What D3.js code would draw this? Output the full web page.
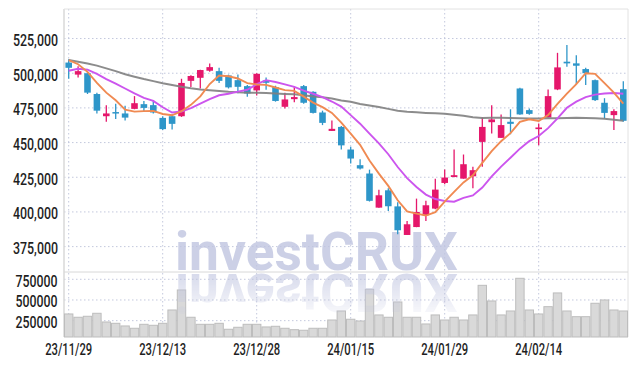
<!DOCTYPE html>
<html><head><meta charset="utf-8">
<script src="https://cdn.jsdelivr.net/npm/d3@7"></script>
<style>
html,body{margin:0;padding:0;background:#fff;}
svg{display:block;}
text{font-family:Roboto,"Noto Sans",sans-serif;}
</style></head>
<body>
<svg id="c" width="637" height="366"></svg>
<script>
const dates = ["23/11/29","23/11/30","23/12/01","23/12/04","23/12/05","23/12/06","23/12/07","23/12/08","23/12/11","23/12/12","23/12/13","23/12/14","23/12/15","23/12/18","23/12/19","23/12/20","23/12/21","23/12/22","23/12/26","23/12/27","23/12/28","24/01/02","24/01/03","24/01/04","24/01/05","24/01/08","24/01/09","24/01/10","24/01/11","24/01/12","24/01/15","24/01/16","24/01/17","24/01/18","24/01/19","24/01/22","24/01/23","24/01/24","24/01/25","24/01/26","24/01/29","24/01/30","24/01/31","24/02/01","24/02/02","24/02/05","24/02/06","24/02/07","24/02/08","24/02/13","24/02/14","24/02/15","24/02/16","24/02/19","24/02/20","24/02/21","24/02/22","24/02/23","24/02/26","24/02/27"];
const open  = [507700,499000,500000,485000,469000,472000,471000,474300,477700,477000,467800,469000,469000,494500,496700,501800,501500,498400,495000,490700,487600,494800,490000,475800,481300,490700,486600,471700,458400,461300,445000,433700,427700,403100,415600,404000,383400,389100,397600,402400,420900,425200,424000,425700,450500,464700,453400,465000,489000,473400,459700,468100,488300,508300,507100,503000,495000,478700,469800,488500];
const high  = [510000,505000,501000,486000,477000,478000,476500,483500,480000,480600,469000,470500,496000,498500,502500,507000,504000,499000,499000,491600,500000,497000,491000,486000,490700,491500,487000,473000,466000,462000,447000,438000,430500,416000,417000,407000,393500,409600,408000,424000,430600,445000,441400,432500,468000,477000,470300,474000,489500,474500,463800,488300,514700,520300,513000,504000,495500,482000,474000,494300];
const low   = [496000,497000,485000,471000,465000,467000,466000,474000,472500,471000,459000,459500,468500,490000,489000,501000,493000,489000,485500,483000,484000,488000,479500,474600,479000,478000,471000,462600,458400,445000,435000,430600,407500,403000,400700,384000,383400,389000,393500,402000,420000,425000,424000,417000,432500,456600,453400,456000,470000,470000,448000,468000,487800,504600,492000,491500,480000,467400,459000,465000];
const close = [503900,501500,486000,473000,471000,471000,468000,478400,475000,471700,459700,463500,493000,498000,502300,504400,494500,489800,490200,485400,499600,493100,480000,481100,482800,478700,471400,464200,459900,448000,438500,431300,408000,412000,404100,386800,391100,400000,404800,416100,424800,426500,434400,430100,461300,466700,462600,463500,470300,470700,460900,483500,504200,507100,505400,500000,480600,471400,472700,465700];
const volume = [331000,291000,303000,339000,234000,218000,186000,158000,206000,194000,218000,379000,621000,291000,206000,206000,218000,146000,170000,206000,206000,174000,182000,158000,141000,134000,158000,158000,258000,367000,267000,246000,629000,319000,291000,476000,291000,291000,210000,319000,258000,291000,258000,319000,677000,488000,319000,367000,762000,379000,331000,419000,585000,367000,298000,298000,460000,500000,379000,367000];
const ma5  = [509500,506500,501000,493000,486000,480500,473800,472300,472700,472800,470600,469700,472600,477200,483300,492200,498400,497800,496200,492900,491900,491600,489700,487800,487300,483100,478800,475600,471400,464400,456400,448400,437100,427600,418800,408400,400400,398800,397400,399800,407400,414400,421300,426400,435400,443800,451000,456800,464900,466800,465600,469800,477900,485300,492200,500000,499500,492900,486000,478100];
const ma10 = [501800,503200,502500,499500,495800,492500,489000,485500,482300,480000,475500,471700,472400,474900,478100,481400,484100,485200,486700,488100,492100,495000,493700,492000,490100,487500,485200,482700,479600,475900,469800,463600,456400,449500,441600,432400,424400,418000,412500,409300,407900,407400,410100,411900,417600,425600,432700,439100,445600,451100,454700,460400,467400,475100,479500,482800,484600,485400,485700,485200];
const ma60 = [509500,508300,507000,505500,503500,501500,499300,497500,495800,494300,492800,491500,490300,489200,488300,487800,487200,486600,486300,486000,485900,485700,485400,485100,484800,484200,483300,482600,481800,480400,479400,477800,476800,475600,474300,473000,472300,471800,471400,471100,470700,470100,469300,468300,467800,467900,467900,467700,467500,467400,467400,467500,467600,467800,467900,467800,467600,467200,466500,465800];
const priceTicks = [375000,400000,425000,450000,475000,500000,525000];
const volumeTicks = [250000,500000,750000];
const tickLabels = ["23/11/29","23/12/13","23/12/28","24/01/15","24/01/29","24/02/14"];

const svg = d3.select("#c");
const L = 64, R = 628, T = 9, SEP = 272, B = 337;
const RED = "#e5176b", BLUE = "#2e96c9";

const x = d3.scaleBand().domain(dates).range([L, R]).paddingInner(0).paddingOuter(0);
const bw = x.bandwidth();
const cx = d => x(d) + bw / 2;
const y = d3.scaleLinear().domain([356700, 546300]).range([SEP, T]);
const yv = d3.scaleLinear().domain([52500, 838000]).range([B, SEP]);

const font = {size: 16, fill: "#1e1e1e", weight: 500};

// grid
const grid = svg.append("g");
grid.selectAll("line.h").data(priceTicks).join("line")
  .attr("x1", L).attr("x2", R).attr("y1", d => y(d)).attr("y2", d => y(d))
  .attr("stroke", "#c3c8dd").attr("stroke-width", 1).attr("stroke-dasharray", "1.5,2.5");
grid.selectAll("line.v").data(tickLabels).join("line")
  .attr("x1", d => cx(d)).attr("x2", d => cx(d)).attr("y1", T).attr("y2", B)
  .attr("stroke", "#c3c8dd").attr("stroke-width", 1).attr("stroke-dasharray", "1.5,2.5");
grid.selectAll("line.vh").data(volumeTicks).join("line")
  .attr("x1", L).attr("x2", R).attr("y1", d => yv(d)).attr("y2", d => yv(d))
  .attr("stroke", "#c3c8dd").attr("stroke-width", 1).attr("stroke-dasharray", "1.5,2.5");

// frame
svg.append("line").attr("x1", L).attr("x2", L).attr("y1", T).attr("y2", B).attr("stroke", "#d8d8d8").attr("stroke-width", 1.5);
svg.append("line").attr("x1", R).attr("x2", R).attr("y1", T).attr("y2", B).attr("stroke", "#e2e2e2").attr("stroke-width", 1);
svg.append("line").attr("x1", L).attr("x2", R).attr("y1", T).attr("y2", T).attr("stroke", "#e2e2e2").attr("stroke-width", 1);
svg.append("line").attr("x1", L).attr("x2", R).attr("y1", SEP).attr("y2", SEP).attr("stroke", "#d8d8d8").attr("stroke-width", 1);

// volume bars
svg.append("g").selectAll("rect").data(dates).join("rect")
  .attr("x", d => x(d) + 0.5).attr("width", bw - 1)
  .attr("y", (d, i) => yv(volume[i])).attr("height", (d, i) => B - yv(volume[i]))
  .attr("fill", "#d9d9d9").attr("stroke", "#bdbdbd").attr("stroke-width", 1);

// watermark + reflection
const defs = svg.append("defs");
const grad = defs.append("linearGradient").attr("id", "fade").attr("x1", 0).attr("y1", 0).attr("x2", 0).attr("y2", 1);
grad.append("stop").attr("offset", "0").attr("stop-color", "#fff").attr("stop-opacity", 0.8);
grad.append("stop").attr("offset", "1").attr("stop-color", "#fff").attr("stop-opacity", 0.0);
defs.append("mask").attr("id", "fm").attr("maskUnits", "userSpaceOnUse")
  .append("rect").attr("x", 0).attr("y", 273).attr("width", 637).attr("height", 50).attr("fill", "url(#fade)");
function wm(g) {
  const t = g.append("text").attr("x", 175).attr("y", 270).attr("font-size", 54)
    .attr("font-weight", 700).attr("fill", "#bfc4e0").attr("fill-opacity", 0.8)
    .attr("textLength", 283).attr("lengthAdjust", "spacingAndGlyphs");
  t.append("tspan").text("invest");
  t.append("tspan").text("CRUX");
}
wm(svg.append("g"));
const refl = svg.append("g").attr("mask", "url(#fm)");
wm(refl.append("g").attr("transform", "translate(0,544) scale(1,-1)"));

// candles
const cg = svg.append("g");
cg.selectAll("line").data(dates).join("line")
  .attr("x1", d => cx(d)).attr("x2", d => cx(d))
  .attr("y1", (d, i) => y(high[i])).attr("y2", (d, i) => y(low[i]))
  .attr("stroke", (d, i) => close[i] >= open[i] ? RED : BLUE).attr("stroke-width", 1.3);
const cw = bw * 0.7;
cg.selectAll("rect").data(dates).join("rect")
  .attr("x", d => cx(d) - cw / 2).attr("width", cw)
  .attr("y", (d, i) => y(Math.max(open[i], close[i])))
  .attr("height", (d, i) => Math.max(1.5, Math.abs(y(open[i]) - y(close[i]))))
  .attr("fill", (d, i) => close[i] >= open[i] ? RED : BLUE);

// moving averages
const line = arr => d3.line().x((d, i) => cx(dates[i])).y(d => y(d))(arr);
svg.append("path").attr("d", line(ma60)).attr("fill", "none").attr("stroke", "#808080").attr("stroke-width", 2).attr("stroke-opacity", 0.9);
svg.append("path").attr("d", line(ma10)).attr("fill", "none").attr("stroke", "#cc55ee").attr("stroke-width", 1.9);
svg.append("path").attr("d", line(ma5)).attr("fill", "none").attr("stroke", "#f08a52").attr("stroke-width", 1.9);

// labels
svg.append("g").selectAll("text").data(priceTicks).join("text")
  .attr("x", 58).attr("y", d => y(d) + 7.5).attr("text-anchor", "end")
  .attr("font-size", font.size).attr("fill", font.fill).attr("font-weight", font.weight)
  .attr("textLength", 45).attr("lengthAdjust", "spacingAndGlyphs")
  .text(d => d3.format(",")(d));
svg.append("g").selectAll("text").data(volumeTicks).join("text")
  .attr("x", 57.5).attr("y", d => yv(d) + 7.3).attr("text-anchor", "end")
  .attr("font-size", font.size).attr("fill", font.fill).attr("font-weight", font.weight)
  .attr("textLength", 42).attr("lengthAdjust", "spacingAndGlyphs")
  .text(d => d);
svg.append("g").selectAll("text").data(tickLabels).join("text")
  .attr("x", d => cx(d) - 23.5).attr("y", 354.5)
  .attr("font-size", font.size).attr("fill", font.fill).attr("font-weight", font.weight)
  .attr("textLength", 47).attr("lengthAdjust", "spacingAndGlyphs")
  .text(d => d);
</script>
</body></html>
